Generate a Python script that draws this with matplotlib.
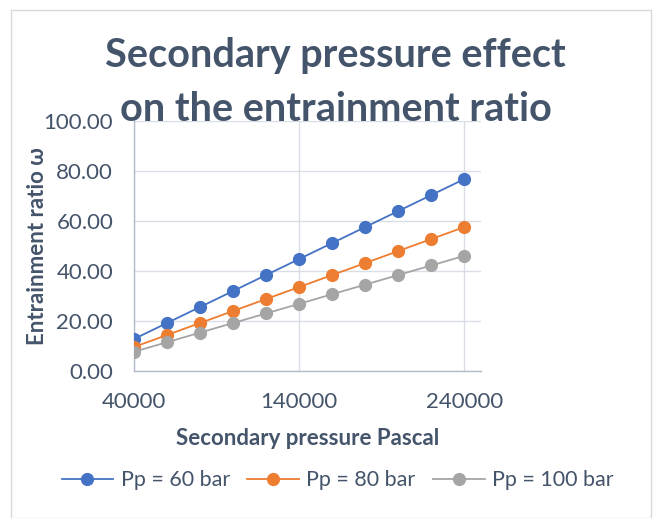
import matplotlib.pyplot as plt
from matplotlib.patches import Rectangle

# Secondary pressure (Pa) and entrainment ratio for three primary pressures
pressure = [40000, 60000, 80000, 100000, 120000, 140000,
            160000, 180000, 200000, 220000, 240000]
omega_60 = [12.8, 19.2, 25.6, 32.0, 38.4, 44.8, 51.2, 57.6, 64.0, 70.4, 76.8]
omega_80 = [9.6, 14.4, 19.2, 24.0, 28.8, 33.6, 38.4, 43.2, 48.0, 52.8, 57.6]
omega_100 = [7.68, 11.52, 15.36, 19.2, 23.04, 26.88, 30.72, 34.56, 38.4, 42.24, 46.08]
labels = ["Pp = 60 bar", "Pp = 80 bar", "Pp = 100 bar"]
colors = ["#4472c4", "#ed7d31", "#a5a5a5"]

x_ticks = [40000, 140000, 240000]
y_ticks = [0, 20, 40, 60, 80, 100]

text_color = "#44546a"
plt.rcParams['font.family'] = ['Lato', 'DejaVu Sans']

fig = plt.figure(figsize=(6.62, 5.18), dpi=100)
ax = fig.add_axes([0.2024, 0.2838, 0.5242, 0.4826])

# chart frame
fig.patches.append(Rectangle((11 / 662, 0), 640 / 662, 508 / 518,
                             transform=fig.transFigure, fill=False,
                             edgecolor="#d9d9d9", linewidth=1.0))

for ys, lab, col in zip([omega_60, omega_80, omega_100], labels, colors):
    ax.plot(pressure, ys, '-o', color=col, label=lab, linewidth=1.3,
            markersize=9.5, markeredgewidth=0, zorder=3)

ax.set_xlim(40000, 250000)
ax.set_ylim(0, 100)
ax.set_xticks(x_ticks)
ax.set_yticks(y_ticks)
ax.set_yticklabels([f"{v:.2f}" for v in y_ticks])
ax.tick_params(length=0, labelsize=16, colors=text_color)
ax.tick_params(axis='y', pad=15)
ax.tick_params(axis='x', pad=15)
ax.grid(True, color="#d9dde6", linewidth=1.0)
ax.set_axisbelow(True)
for side in ['top', 'right']:
    ax.spines[side].set_visible(False)
for side in ['left', 'bottom']:
    ax.spines[side].set_color("#b4bccc")
    ax.spines[side].set_linewidth(1.0)

ax.set_xlabel("Secondary pressure Pascal", fontsize=16, fontweight='bold',
              color=text_color, labelpad=12)
ax.set_ylabel("Entrainment ratio ω", fontsize=16, fontweight='bold',
              color=text_color, labelpad=-3)

# two-line title, each line placed on its own baseline
title_lines = ["Secondary pressure effect", "on the entrainment ratio"]
for line, yb in zip(title_lines, [0.8707, 0.7664]):
    fig.text(0.507, yb, line, ha='center', va='baseline', fontsize=28.5,
             fontweight='bold', color=text_color)

fig.legend(loc='center', bbox_to_anchor=(0.51, 0.073), ncol=3, frameon=False,
           fontsize=15.5, labelcolor=text_color, handlelength=2.4,
           columnspacing=0.8, handletextpad=0.35)

fig.savefig("out.png", dpi=100)
